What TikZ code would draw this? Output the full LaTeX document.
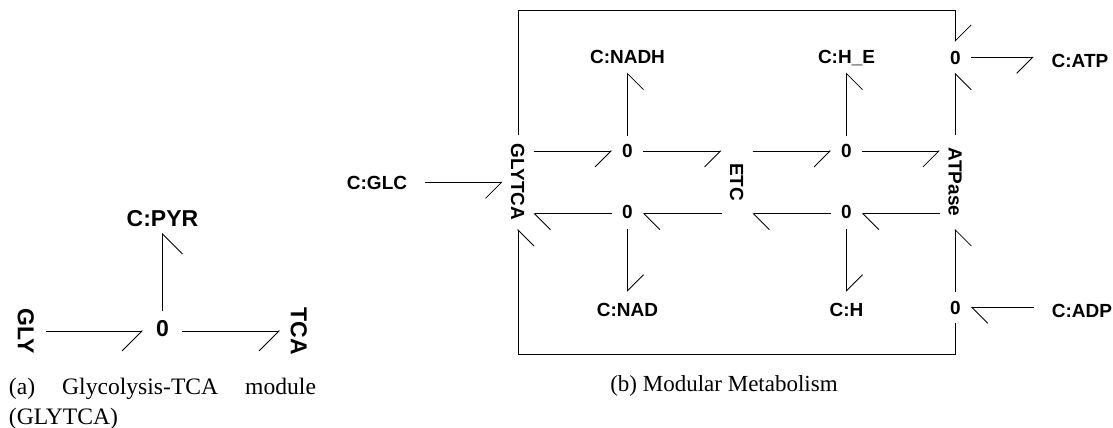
\documentclass[tikz,border=0pt]{standalone}
\usepackage{fontspec}
\setmainfont{Liberation Serif}
\setsansfont{Liberation Sans}
\usetikzlibrary{arrows.meta}

\begin{document}
\begin{tikzpicture}[x=1pt,y=-1pt]

\useasboundingbox (0,0) rectangle (1113,428);

% styles
\pgfkeys{/lab/.style={inner sep=0, outer sep=0, text height=13.6pt, text depth=0pt, font=\sffamily\bfseries\fontsize{19}{19}\selectfont}} % base style for labels
\pgfkeys{/zero/.style={/lab, minimum width=31pt, minimum height=31pt}} % junctions
\pgfkeys{/zerolow/.style={/zero, text depth=4.6pt}} % junctions, digit below the bonds
\pgfkeys{/metab/.style={/lab, minimum height=31.4pt}} % metabolites
\pgfkeys{/modl/.style={/lab, rotate=-90, minimum width=94pt, minimum height=31pt}} % modules
\pgfkeys{/biglab/.style={inner sep=0, outer sep=0, text height=16.5pt, text depth=0pt, font=\sffamily\bfseries\fontsize{23}{23}\selectfont}} % labels in part a
\pgfkeys{/capt/.style={inner sep=0, outer sep=0, font=\fontsize{23}{30}\selectfont}} % captions

% half arrowheads
\pgfkeys{/tikz/bond/.style={line width=0.8pt, -{Straight Barb[right, length=16pt, width=32pt]}}}
\pgfkeys{/tikz/bondl/.style={line width=0.8pt, -{Straight Barb[left, length=16pt, width=32pt]}}}
\pgfkeys{/tikz/bigbond/.style={line width=0.8pt, -{Straight Barb[right, length=20pt, width=40pt]}}}

% part a
\node[/biglab, minimum width=39pt, minimum height=40pt, text depth=4.6pt] (zglyc) at (162.5,331) {0};
\node[/biglab, rotate=-90, minimum height=40pt] (gly) at (26,331) {GLY};
\node[/biglab, rotate=-90, minimum height=38pt] (tca) at (299,331) {TCA};
\node[/biglab, minimum height=30pt] (pyr) at (162.5,218) {C:PYR};
\draw[bigbond] (gly.north) -- (zglyc);
\draw[bigbond] (zglyc) -- (tca.south);
\draw[bigbond] (zglyc) -- (pyr);
\node[/capt, font=\fontsize{23.6}{30}\selectfont, anchor=north west, text width=307pt, align=justify] (capa) at (9,378) {(a) Glycolysis-TCA module (GLYTCA)};

% modules
\node[/modl] (glytca) at (518,182) {GLYTCA};
\node[/modl] (etc) at (737,182) {ETC};
\node[/modl] (atpase) at (955.3,182) {ATPase};

% upper and lower row of junctions
\node[/zero] (z1) at (627.5,151) {0};
\node[/zero] (z2) at (846.5,151) {0};
\node[/zerolow] (z3) at (627.5,213.7) {0};
\node[/zerolow] (z4) at (846.5,213.7) {0};
\node[/zero] (zatp) at (955.3,57.3) {0};
\node[/zero] (zadp) at (955.3,307.3) {0};

% metabolites
\node[/metab] (nadh) at (627.5,57) {C:NADH};
\node[/metab] (he) at (846.5,57) {C:H\_E};
\node[/metab, minimum height=36.6pt] (nad) at (627.5,310) {C:NAD};
\node[/metab, minimum height=36.6pt] (h) at (846.5,310) {C:H};
\node[/lab, inner xsep=18pt] (glc) at (377,182.3) {C:GLC};
\node[/lab, inner xsep=18pt] (atp) at (1080,61) {C:ATP};
\node[/lab, inner xsep=18pt] (adp) at (1082,310.7) {C:ADP};

% outer loop corners
\coordinate (tr) at (955.3,10.3);
\coordinate (br) at (955.3,354);

% bonds
\draw[bond] (glc) -- (glc -| glytca.south);
\draw[bond] (glytca.north |- z1) -- (z1);
\draw[bond] (z1) -- (etc.south |- z1);
\draw[bond] (etc.north |- z2) -- (z2);
\draw[bond] (z2) -- (atpase.south |- z2);
\draw[bondl] (z3) -- (glytca.north |- z3);
\draw[bondl] (etc.south |- z3) -- (z3);
\draw[bondl] (z4) -- (etc.north |- z4);
\draw[bondl] (atpase.south |- z4) -- (z4);
\foreach \a/\b in {z1/nadh, z2/he, atpase.west/zatp, zadp/atpase.east} {
\draw[bond] (\a) -- (\b);
}
\draw[bondl] (z3) -- (nad);
\draw[bondl] (z4) -- (h);
\draw[bond] (zatp.east) -- (atp.west |- zatp);
\draw[bondl] (adp.west |- zadp) -- (zadp);
\draw[bondl] (glytca.west) |- (tr) -- (zatp); % outer loop
\draw[bond] (zadp) -- (br) -| (glytca.east); % outer loop

\node[/capt] (capb) at (724,386) {(b) Modular Metabolism};

\end{tikzpicture}
\end{document}
